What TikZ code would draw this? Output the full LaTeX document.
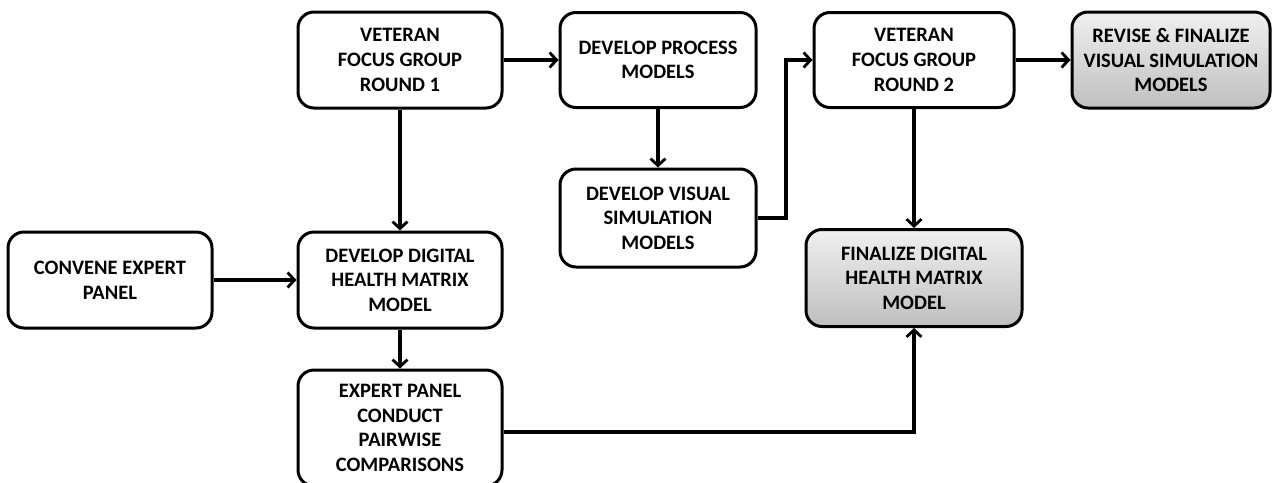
\documentclass[tikz,border=0pt]{standalone}
\usepackage{fontspec}
\setmainfont{Carlito}
\usetikzlibrary{arrows.meta}
\tikzset{
  box/.style={draw=black, line width=3pt, rounded corners=16pt, fill=white, align=center,
    font=\fontsize{20.5}{24.6}\selectfont\bfseries, inner sep=0pt},
  shadebox/.style={box, top color=white!94!black, bottom color=black!25},
  conn/.style={line width=3.2pt, -{Straight Barb[length=7pt,width=15pt,line width=2.8pt]}},
}
\begin{document}
\begin{tikzpicture}[x=1pt,y=-1pt]
\useasboundingbox (0,0) rectangle (1279,482);
\node[box, minimum width=204, minimum height=96] (vfg1) at (400,60) {VETERAN\\FOCUS GROUP\\ROUND 1};
\node[box, minimum width=196, minimum height=95] (dpm) at (658,60) {DEVELOP PROCESS\\MODELS};
\node[box, minimum width=200, minimum height=95] (vfg2) at (914,60) {VETERAN\\FOCUS GROUP\\ROUND 2};
\node[shadebox, minimum width=198, minimum height=96] (rev) at (1171,60) {REVISE \& FINALIZE\\VISUAL SIMULATION\\MODELS};
\node[box, minimum width=196, minimum height=98] (dvsm) at (658,218) {DEVELOP VISUAL\\SIMULATION\\MODELS};
\node[box, minimum width=204, minimum height=96] (cep) at (110,280) {CONVENE EXPERT\\PANEL};
\node[box, minimum width=204, minimum height=96] (ddhm) at (400,280) {DEVELOP DIGITAL\\HEALTH MATRIX\\MODEL};
\node[shadebox, minimum width=216, minimum height=97] (fdhm) at (914,278) {FINALIZE DIGITAL\\HEALTH MATRIX\\MODEL};
\node[box, minimum width=204, minimum height=116] (epc) at (400,428) {EXPERT PANEL\\CONDUCT\\PAIRWISE\\COMPARISONS};
\coordinate (bend) at (786,218);
\draw[conn] (vfg1) -- (dpm);
\draw[conn] (vfg1) -- (ddhm);
\draw[conn] (dpm) -- (dvsm);
\draw[conn] (dvsm.east) -- (bend) |- (vfg2.west);
\draw[conn] (vfg2) -- (rev);
\draw[conn] (vfg2) -- (fdhm);
\draw[conn] (cep) -- (ddhm);
\draw[conn] (ddhm) -- (epc);
\draw[conn] ([yshift=-4pt]epc.east) -| (fdhm.south);
\end{tikzpicture}
\end{document}
